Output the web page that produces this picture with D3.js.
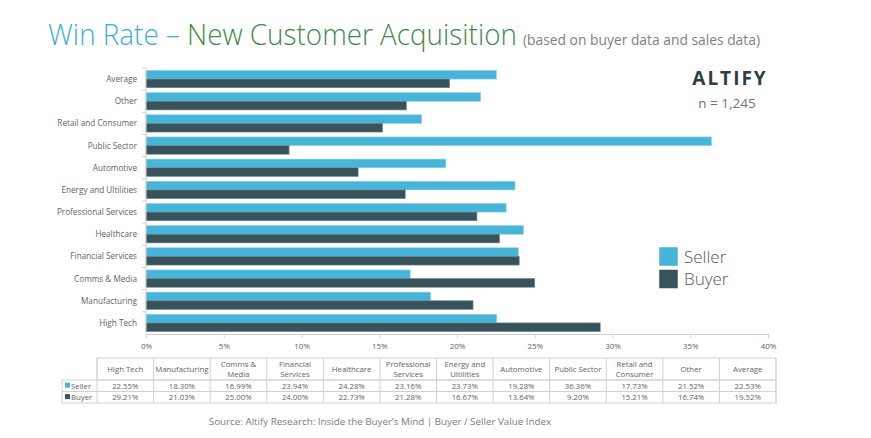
<!DOCTYPE html>
<html>
<head>
<meta charset="utf-8">
<script src="https://cdn.jsdelivr.net/npm/d3@7"></script>
<style>
  body{margin:0;background:#fff;}
  svg{display:block;font-family:"Open Sans",sans-serif;}
</style>
</head>
<body>
<div id="chart"></div>
<script>
// table order (chart shows it bottom-up)
const categories=["High Tech","Manufacturing","Comms & Media","Financial Services","Healthcare",
  "Professional Services","Energy and Ultilities","Automotive","Public Sector","Retail and Consumer","Other","Average"];
const tableHeads=["High Tech","Manufacturing","Comms &\nMedia","Financial\nServices","Healthcare",
  "Professional\nServices","Energy and\nUltilities","Automotive","Public Sector","Retail and\nConsumer","Other","Average"];
const seller=[22.55,18.30,16.99,23.94,24.28,23.16,23.73,19.28,36.36,17.73,21.52,22.53];
const buyer=[29.21,21.03,25.00,24.00,22.73,21.28,16.67,13.64,9.20,15.21,16.74,19.52];
const xTicks=[0,5,10,15,20,25,30,35,40];
const seriesNames=["Seller","Buyer"];

(function(){
  const W=871,H=438;
  const colors={Seller:"#47b5da",Buyer:"#38535b"};
  const grey="#5f6265", line="#cfd2d3";
  const svg=d3.select("#chart").append("svg").attr("width",W).attr("height",H);

  // title
  const t1=svg.append("text").attr("x",48).attr("y",45).attr("font-size",30).attr("font-weight",300)
    .attr("fill","#3aaed8").text("Win Rate –\u00a0");
  const w1=t1.node().getComputedTextLength();
  const t2=svg.append("text").attr("x",48+w1).attr("y",45).attr("font-size",30).attr("font-weight",300)
    .attr("fill","#3e8a4b").text("New Customer Acquisition");
  const sc=469/(w1+t2.node().getComputedTextLength());
  t1.attr("textLength",w1*sc).attr("lengthAdjust","spacingAndGlyphs");
  t2.attr("x",48+w1*sc).attr("textLength",t2.node().getComputedTextLength()*sc).attr("lengthAdjust","spacingAndGlyphs");
  svg.append("text").attr("x",523).attr("y",45).attr("font-size",15).attr("fill","#7d7f82")
    .attr("textLength",237).attr("lengthAdjust","spacingAndGlyphs").text("(based on buyer data and sales data)");

  // chart
  const x=d3.scaleLinear().domain([0,40]).range([146,768]);
  const y=d3.scaleBand().domain(categories.slice().reverse()).range([68,334]).paddingInner(0.22).paddingOuter(0.11);
  const y2=d3.scaleBand().domain(seriesNames).range([0,y.bandwidth()]);
  const rows=categories.map((c,i)=>({c,Seller:seller[i],Buyer:buyer[i]}));

  const gb=svg.append("g");
  gb.selectAll("g").data(rows).join("g").attr("transform",d=>`translate(0,${y(d.c)})`)
    .selectAll("rect").data(d=>seriesNames.map(k=>({k,v:d[k]}))).join("rect")
    .attr("x",x(0)).attr("y",d=>y2(d.k)).attr("height",y2.bandwidth())
    .attr("width",d=>x(d.v)-x(0)).attr("fill",d=>colors[d.k])
    .attr("stroke",d=>d.k==="Seller"?"#8fd0e8":"#6d8289").attr("stroke-width",0.6);

  // y axis
  const step=y.step();
  svg.append("line").attr("x1",x(0)).attr("x2",x(0)).attr("y1",68).attr("y2",334).attr("stroke",line);
  const bounds=y.domain().map(c=>y(c)-step*y.paddingInner()/2);
  svg.selectAll(".ytick").data(bounds).join("line").attr("x1",x(0)-4).attr("x2",x(0))
    .attr("y1",d=>d).attr("y2",d=>d).attr("stroke",line);
  svg.selectAll(".ylab").data(y.domain()).join("text").attr("x",137).attr("y",d=>y(d)+y.bandwidth()/2+3)
    .attr("text-anchor","end").attr("font-size",8.2).attr("fill",grey).text(d=>d);

  // x axis
  const gx=svg.append("g").attr("transform","translate(0,334)")
    .call(d3.axisBottom(x).tickValues(xTicks).tickSize(4).tickPadding(5).tickFormat(d=>d+"%"));
  gx.select(".domain").attr("stroke",line);
  gx.selectAll("line").attr("stroke",line);
  gx.selectAll("text").attr("fill",grey).attr("font-size",8).attr("font-family","Open Sans");

  // logo + n
  svg.append("text").attr("x",730).attr("y",85).attr("text-anchor","middle").attr("font-size",19)
    .attr("font-weight",700).attr("letter-spacing",2).attr("fill","#2d3f46").text("ALTIFY");
  svg.append("text").attr("x",727).attr("y",108).attr("text-anchor","middle").attr("font-size",13.5)
    .attr("fill","#6f7275").text("n = 1,245");

  // legend
  const lg=svg.append("g").attr("transform","translate(659,247)");
  seriesNames.forEach((k,i)=>{
    lg.append("rect").attr("x",0).attr("y",i*22.5).attr("width",19).attr("height",19).attr("fill",colors[k])
      .attr("stroke","#ffffff").attr("stroke-width",0.5);
    lg.append("text").attr("x",25).attr("y",i*22.5+15.5).attr("font-size",17).attr("font-weight",300)
      .attr("fill","#55585b").text(k);
  });

  // data table
  const tx0=97,tx1=776,lab0=62,ty=[358,380,391.5,403];
  const cw=(tx1-tx0)/categories.length;
  const tg=svg.append("g").attr("font-size",7.8).attr("fill",grey);
  tg.append("rect").attr("x",tx0).attr("y",ty[0]).attr("width",tx1-tx0).attr("height",ty[1]-ty[0])
    .attr("fill","none").attr("stroke",line);
  tg.append("rect").attr("x",lab0).attr("y",ty[1]).attr("width",tx1-lab0).attr("height",ty[3]-ty[1])
    .attr("fill","none").attr("stroke",line);
  tg.append("line").attr("x1",lab0).attr("x2",tx1).attr("y1",ty[2]).attr("y2",ty[2]).attr("stroke",line);
  d3.range(categories.length+1).forEach(i=>{
    tg.append("line").attr("x1",tx0+i*cw).attr("x2",tx0+i*cw).attr("y1",ty[0]).attr("y2",ty[3]).attr("stroke",line);
  });
  tableHeads.forEach((h,i)=>{
    const ls=h.split("\n");
    const t=tg.append("text").attr("text-anchor","middle").attr("x",tx0+(i+.5)*cw)
      .attr("y",ls.length>1?ty[0]+9:ty[0]+14);
    ls.forEach((l,j)=>t.append("tspan").attr("x",tx0+(i+.5)*cw).attr("dy",j?9.5:0).text(l));
  });
  [seller,buyer].forEach((arr,r)=>{
    const yy=ty[r+1]+8.6;
    tg.append("rect").attr("x",lab0+3).attr("y",yy-6).attr("width",5).attr("height",5).attr("fill",colors[seriesNames[r]]);
    tg.append("text").attr("x",lab0+9).attr("y",yy).text(seriesNames[r]);
    arr.forEach((v,i)=>tg.append("text").attr("text-anchor","middle").attr("x",tx0+(i+.5)*cw).attr("y",yy)
      .text(v.toFixed(2)+"%"));
  });

  // source
  svg.append("text").attr("x",380).attr("y",425).attr("text-anchor","middle").attr("font-size",9.8)
    .attr("fill","#7a7c7f").text("Source: Altify Research: Inside the Buyer’s Mind | Buyer / Seller Value Index");
})();
</script>
</body>
</html>
